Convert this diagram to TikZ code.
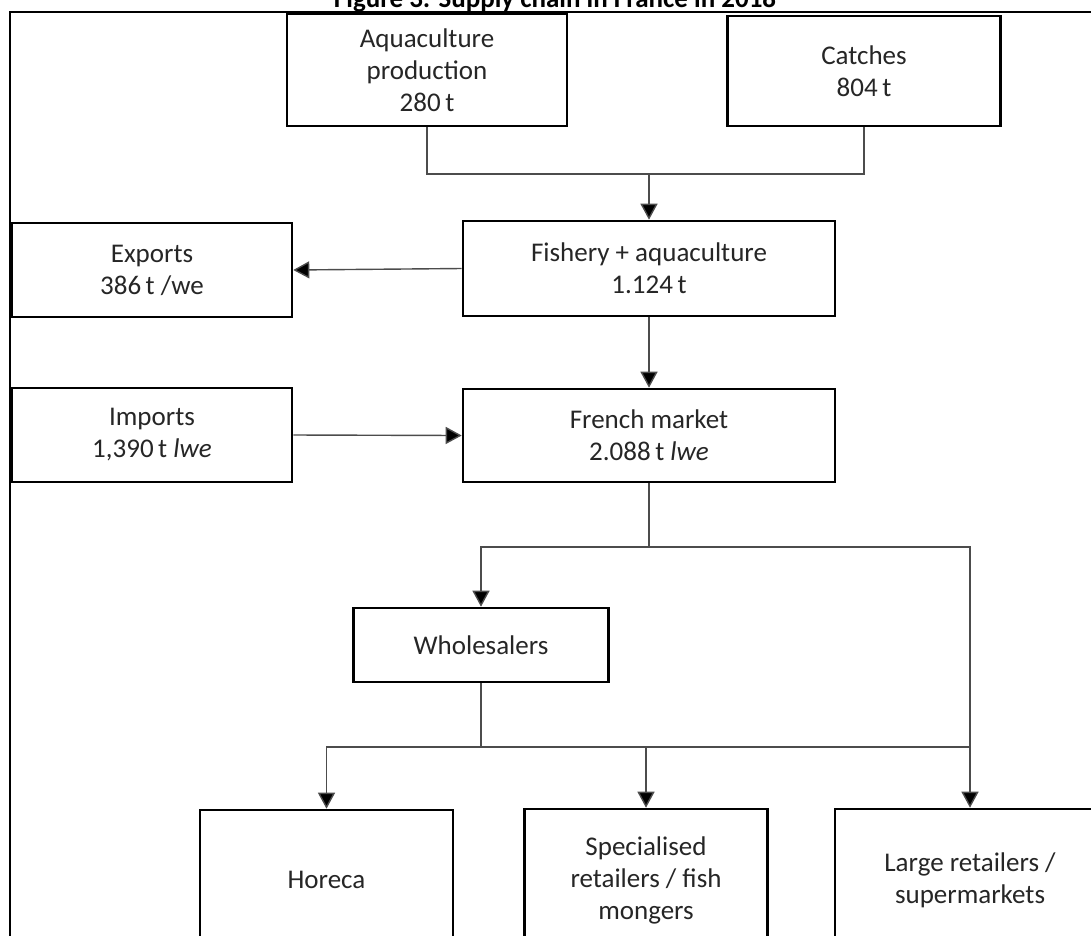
\documentclass[tikz,border=0pt]{standalone}
\usepackage{fontspec}
\setmainfont{Carlito}
\usetikzlibrary{arrows.meta}
\begin{document}
\begin{tikzpicture}[x=1pt,y=-1pt,
  box/.style={draw=black, line width=2.6pt, fill=white, align=center, inner sep=0pt,
    font=\fontsize{27}{32}\selectfont, text=black!85},
  conn/.style={draw=black!70, line width=1.4pt},
  arr/.style={conn, -{Triangle[length=16pt,width=17pt,fill=black]}},
  frame/.style={draw=black, line width=1.6pt}]
\useasboundingbox (0,0) rectangle (1091,935);
% title (cut at the top)
\node[anchor=base, font=\bfseries\fontsize{27}{32}\selectfont, inner sep=0pt] (title) at (555,7) {Figure 3: Supply chain in France in 2018};
% outer frame
\coordinate (ftl) at (10,12);
\coordinate (ftr) at (1095,12);
\coordinate (fbl) at (10,940);
\draw[frame] (fbl) -- (ftl) -- (ftr);
% boxes
\node[box, minimum width=280pt, minimum height=112pt] (aqua) at (427,70) {Aquaculture\\production\\280\,t};
\node[box, minimum width=273pt, minimum height=110pt] (catches) at (864,71) {Catches\\804\,t};
\node[box, minimum width=372pt, minimum height=95pt] (fish) at (649,268.5) {Fishery + aquaculture\\1.124\,t};
\node[box, minimum width=280pt, minimum height=94pt] (exports) at (152,270) {Exports\\386\,t /we};
\node[box, minimum width=280pt, minimum height=94pt] (imports) at (152,435) {Imports\\1,390\,t \textit{lwe}};
\node[box, minimum width=372pt, minimum height=93pt] (french) at (649,435.5) {French market\\2.088\,t \textit{lwe}};
\node[box, minimum width=255pt, minimum height=74pt] (whole) at (481,645) {Wholesalers};
\node[box, minimum width=253pt, minimum height=140pt] (horeca) at (326.5,880) {Horeca};
\node[box, minimum width=243pt, minimum height=142pt] (spec) at (646,880) {Specialised\\retailers / fish\\mongers};
\node[box, minimum width=270pt, minimum height=142pt] (large) at (970,880) {Large retailers /\\supermarkets};
% junctions
\coordinate (j1) at (649,174);
\coordinate (j2) at (649,547);
\coordinate (j3) at (481,747);
% connectors
\draw[conn] (aqua.south) |- (j1) -| (catches.south);
\draw[arr] (j1) -- (fish.north);
\draw[arr] (fish.west) -- (exports.east);
\draw[arr] (fish.south) -- (french.north);
\draw[arr] (imports.east) -- (french.west);
\draw[conn] (french.south) -- (j2);
\draw[arr] (j2) -| (whole.north);
\draw[arr] (j2) -| (large.north);
\draw[conn] (whole.south) -- (j3);
\draw[arr] (j3) -| (horeca.north);
\draw[arr] (j3) -| (spec.north);
\draw[conn] (j3) -- (j3 -| large.north);
\end{tikzpicture}
\end{document}
